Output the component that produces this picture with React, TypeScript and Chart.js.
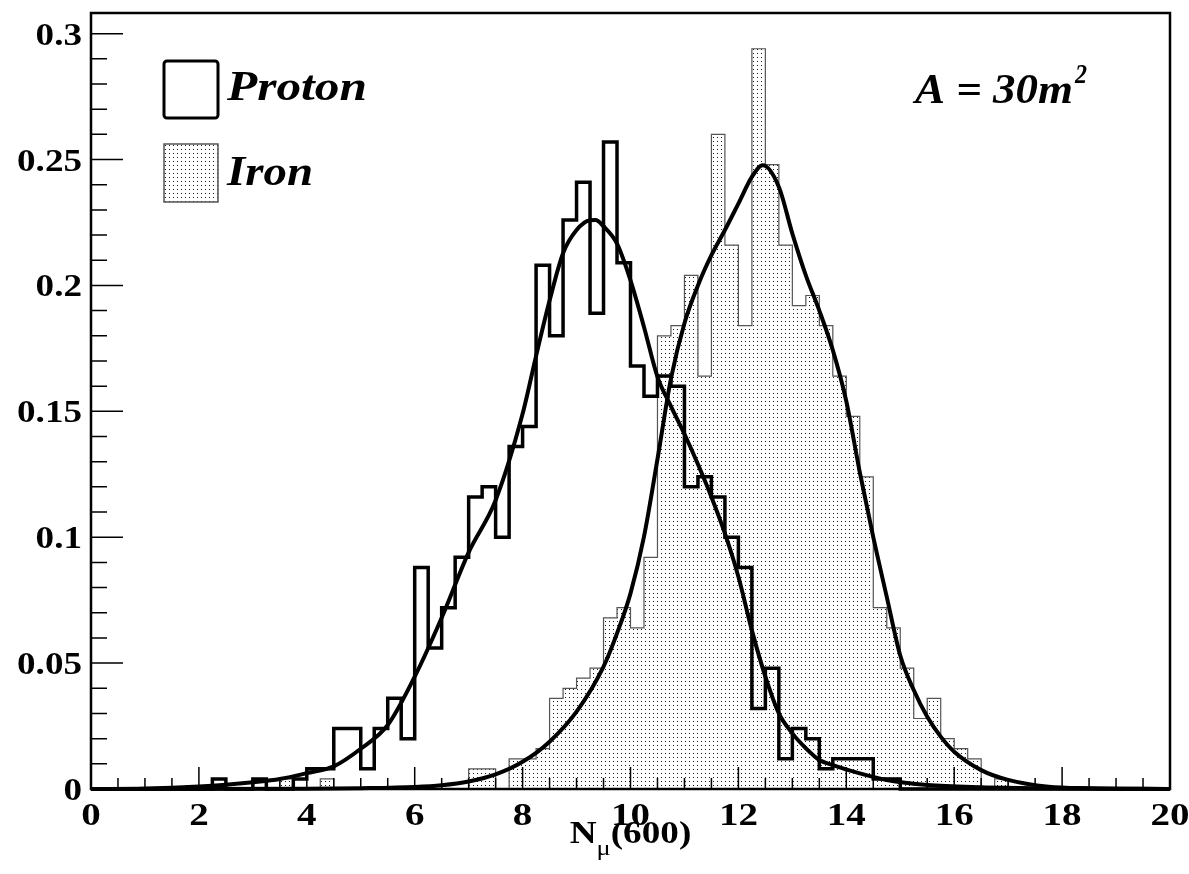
import React, { useEffect, useRef } from "react";
import { Chart, registerables } from "chart.js";

Chart.register(...registerables);

// ---------- data ----------
const BIN_WIDTH = 0.25;

const PROTON_START = 2.25;
const protonValues = [
  0.004, 0, 0, 0.004, 0, 0, 0.004, 0.008, 0.008, 0.024,
  0.024, 0.008, 0.024, 0.036, 0.020, 0.088, 0.056, 0.072, 0.092, 0.116,
  0.120, 0.100, 0.136, 0.144, 0.208, 0.180, 0.226, 0.241, 0.189, 0.257,
  0.209, 0.168, 0.156, 0.164, 0.160, 0.120, 0.124, 0.116, 0.100, 0.088,
  0.032, 0.048, 0.012, 0.024, 0.020, 0.008, 0.012, 0.012, 0.012, 0.004,
  0.004,
];

const IRON_START = 3.5;
const ironValues = [
  0.004, 0, 0, 0.004, 0, 0, 0, 0, 0, 0,
  0, 0, 0, 0, 0.008, 0.008, 0, 0.012, 0.012, 0.016,
  0.036, 0.040, 0.044, 0.048, 0.068, 0.072, 0.064, 0.092, 0.180, 0.184,
  0.204, 0.164, 0.260, 0.216, 0.184, 0.294, 0.248, 0.216, 0.192, 0.196,
  0.184, 0.164, 0.148, 0.124, 0.072, 0.064, 0.048, 0.028, 0.036, 0.020,
  0.016, 0.012, 0, 0.004,
];

const protonFitX = [0, 1, 2, 2.5, 3, 3.5, 4, 4.5, 5, 5.5, 6, 6.5, 7, 7.5, 8, 8.25, 8.5, 8.75, 9, 9.25, 9.35, 9.5, 9.75, 10, 10.25, 10.5, 10.75, 11, 11.25, 11.5, 11.75, 12, 12.25, 12.5, 12.75, 13, 13.25, 13.5, 13.75, 14.25, 14.75, 15.5, 16.5, 17.75, 20];
const protonFitY = [0, 0.0002, 0.001, 0.0017, 0.0027, 0.004, 0.0063, 0.009, 0.016, 0.0254, 0.0446, 0.068, 0.094, 0.1147, 0.149, 0.172, 0.194, 0.2128, 0.222, 0.2259, 0.226, 0.2235, 0.2166, 0.202, 0.1835, 0.1637, 0.152, 0.141, 0.129, 0.116, 0.1015, 0.0843, 0.063, 0.0446, 0.030, 0.0221, 0.0162, 0.0115, 0.0095, 0.0062, 0.0036, 0.0016, 0.0007, 0.0003, 0];

const ironFitX = [0, 4, 5, 6, 6.5, 7, 7.5, 8, 8.5, 9, 9.5, 9.75, 10, 10.25, 10.5, 10.75, 11, 11.25, 11.5, 11.75, 12, 12.25, 12.45, 12.75, 13, 13.25, 13.5, 13.75, 14, 14.25, 14.5, 14.75, 15, 15.25, 15.5, 15.75, 16, 16.5, 17, 17.75, 18.5, 20];
const ironFitY = [0, 0.0001, 0.0003, 0.0008, 0.0015, 0.003, 0.0058, 0.0108, 0.0188, 0.0307, 0.0486, 0.0618, 0.0777, 0.1002, 0.131, 0.163, 0.185, 0.2, 0.212, 0.222, 0.2325, 0.2431, 0.2477, 0.2391, 0.2206, 0.204, 0.19, 0.1743, 0.154, 0.1258, 0.1, 0.0763, 0.053, 0.0393, 0.0287, 0.0208, 0.0148, 0.0075, 0.0036, 0.0009, 0.0003, 0];

const X_MIN = 0;
const X_MAX = 20;
const Y_MIN = 0;
const Y_MAX = 0.3082;

const xTickValues = [0, 2, 4, 6, 8, 10, 12, 14, 16, 18, 20];
const xTickLabels = ["0", "2", "4", "6", "8", "10", "12", "14", "16", "18", "20"];
const yTickValues = [0, 0.05, 0.1, 0.15, 0.2, 0.25, 0.3];
const yTickLabels = ["0", "0.05", "0.1", "0.15", "0.2", "0.25", "0.3"];
const X_MINOR_STEP = 0.5;
const Y_MINOR_STEP = 0.01;

const LEGEND_PROTON = "Proton";
const LEGEND_IRON = "Iron";
const AREA_TEXT = "A = 30m";
const AREA_SUP = "2";
const X_TITLE_MAIN = "N";
const X_TITLE_SUB = "\u03bc";
const X_TITLE_REST = "(600)";

// ---------- helpers ----------
function histSteps(start: number, values: number[]) {
  const pts: { x: number; y: number }[] = [{ x: X_MIN, y: 0 }];
  values.forEach((v, i) => pts.push({ x: start + i * BIN_WIDTH, y: v }));
  pts.push({ x: start + values.length * BIN_WIDTH, y: 0 });
  pts.push({ x: X_MAX, y: 0 });
  return pts;
}

function zip(xs: number[], ys: number[]) {
  return xs.map((x, i) => ({ x, y: ys[i] }));
}

function makePattern(ctx: CanvasRenderingContext2D) {
  const pc = document.createElement("canvas");
  pc.width = 4;
  pc.height = 4;
  const p = pc.getContext("2d")!;
  p.fillStyle = "#ffffff";
  p.fillRect(0, 0, 4, 4);
  p.fillStyle = "#1a1a1a";
  p.fillRect(1, 1, 1, 1);
  return ctx.createPattern(pc, "repeat")!;
}

const SERIF = "'Liberation Serif', 'Times New Roman', serif";

function drawScaledText(
  ctx: CanvasRenderingContext2D,
  text: string,
  x: number,
  y: number,
  font: string,
  align: CanvasTextAlign,
  sx: number
) {
  ctx.save();
  ctx.font = font;
  ctx.textAlign = align;
  ctx.textBaseline = "alphabetic";
  ctx.fillStyle = "#000";
  ctx.translate(x, y);
  ctx.scale(sx, 1);
  ctx.fillText(text, 0, 0);
  ctx.restore();
}

function fitText(
  ctx: CanvasRenderingContext2D,
  text: string,
  x: number,
  y: number,
  font: string,
  width: number
) {
  ctx.save();
  ctx.font = font;
  const w = ctx.measureText(text).width;
  ctx.restore();
  drawScaledText(ctx, text, x, y, font, "left", width / w);
}

const decorPlugin = {
  id: "rootDecor",
  afterDraw(chart: any) {
    const ctx: CanvasRenderingContext2D = chart.ctx;
    const { left, right, top, bottom } = chart.chartArea;
    const xs = chart.scales.x;
    const ys = chart.scales.y;
    const pattern = chart.$ironPattern as CanvasPattern;

    ctx.save();
    // frame
    ctx.strokeStyle = "#000";
    ctx.lineWidth = 2.5;
    ctx.strokeRect(left, top, right - left, bottom - top);

    // ticks
    ctx.lineWidth = 1.5;
    ctx.beginPath();
    for (let v = Y_MIN; v <= Y_MAX + 1e-9; v += Y_MINOR_STEP) {
      const vv = Math.round(v * 1000) / 1000;
      const major = yTickValues.some((t) => Math.abs(t - vv) < 1e-6);
      const py = ys.getPixelForValue(vv);
      ctx.moveTo(left, py);
      ctx.lineTo(left + (major ? 32 : 16), py);
    }
    for (let v = X_MIN; v <= X_MAX + 1e-9; v += X_MINOR_STEP) {
      const major = xTickValues.some((t) => Math.abs(t - v) < 1e-6);
      const px = xs.getPixelForValue(v);
      ctx.moveTo(px, bottom);
      ctx.lineTo(px, bottom - (major ? 22 : 11));
    }
    ctx.stroke();
    ctx.restore();

    // tick labels
    const tickFont = `bold 32px ${SERIF}`;
    yTickValues.forEach((v, i) => {
      drawScaledText(ctx, yTickLabels[i], left - 9, ys.getPixelForValue(v) + 11, tickFont, "right", 1.16);
    });
    xTickValues.forEach((v, i) => {
      drawScaledText(ctx, xTickLabels[i], xs.getPixelForValue(v), bottom + 36, tickFont, "center", 1.22);
    });

    // axis title N_mu(600), centered on the axis
    const tFont = `bold 31px ${SERIF}`;
    const sFont = `22px ${SERIF}`;
    const sxT = 1.2;
    ctx.save();
    ctx.font = tFont;
    const wN = ctx.measureText(X_TITLE_MAIN).width * sxT;
    const wR = ctx.measureText(X_TITLE_REST).width * sxT;
    ctx.font = sFont;
    const wS = ctx.measureText(X_TITLE_SUB).width * sxT;
    ctx.restore();
    const total = wN + wS + wR;
    const cx = (left + right) / 2;
    let tx = cx - total / 2;
    const tBase = 843;
    drawScaledText(ctx, X_TITLE_MAIN, tx, tBase, tFont, "left", sxT);
    tx += wN;
    drawScaledText(ctx, X_TITLE_SUB, tx, tBase + 12, sFont, "left", sxT);
    tx += wS;
    drawScaledText(ctx, X_TITLE_REST, tx, tBase, tFont, "left", sxT);

    // legend
    ctx.save();
    ctx.strokeStyle = "#000";
    ctx.lineWidth = 3;
    ctx.beginPath();
    (ctx as any).roundRect(164, 61, 54, 57, 3);
    ctx.stroke();
    ctx.fillStyle = pattern;
    ctx.fillRect(164, 144, 54, 58);
    ctx.strokeStyle = "#555";
    ctx.lineWidth = 1.5;
    ctx.strokeRect(164, 144, 54, 58);
    ctx.restore();

    const legFont = `italic bold 42px ${SERIF}`;
    fitText(ctx, LEGEND_PROTON, 227, 100, legFont, 140);
    fitText(ctx, LEGEND_IRON, 227, 185, legFont, 86);

    // area annotation
    fitText(ctx, AREA_TEXT, 915, 103, legFont, 158);
    fitText(ctx, AREA_SUP, 1075, 83, `italic bold 28px ${SERIF}`, 12);
  },
};

export default function App() {
  const ref = useRef<HTMLCanvasElement | null>(null);

  useEffect(() => {
    const canvas = ref.current!;
    const ctx = canvas.getContext("2d")!;
    const pattern = makePattern(ctx);

    const chart: any = new Chart(ctx, {
      type: "line",
      data: {
        datasets: [
          {
            label: "Proton fit",
            data: zip(protonFitX, protonFitY),
            borderColor: "#000",
            borderWidth: 4,
            pointRadius: 0,
            cubicInterpolationMode: "monotone",
            fill: false,
            order: 0,
            clip: 6,
          },
          {
            label: "Iron fit",
            data: zip(ironFitX, ironFitY),
            borderColor: "#000",
            borderWidth: 4,
            pointRadius: 0,
            cubicInterpolationMode: "monotone",
            fill: false,
            order: 0,
            clip: 6,
          },
          {
            label: LEGEND_PROTON,
            data: histSteps(PROTON_START, protonValues),
            stepped: true,
            borderColor: "#000",
            borderWidth: 3.5,
            pointRadius: 0,
            fill: false,
            order: 1,
            clip: 6,
          },
          {
            label: LEGEND_IRON,
            data: histSteps(IRON_START, ironValues),
            stepped: true,
            borderColor: "#555",
            borderWidth: 1.2,
            pointRadius: 0,
            fill: "origin",
            backgroundColor: pattern,
            order: 2,
            clip: 6,
          },
        ],
      } as any,
      options: {
        responsive: false,
        animation: false,
        events: [],
        layout: { padding: { top: 13, right: 19, left: 0, bottom: 0 } },
        plugins: {
          legend: { display: false },
          tooltip: { enabled: false },
          title: { display: false },
        },
        scales: {
          x: {
            type: "linear",
            min: X_MIN,
            max: X_MAX,
            grid: { display: false },
            border: { display: false },
            ticks: { display: false },
            afterFit: (s: any) => {
              s.height = 85;
            },
          },
          y: {
            type: "linear",
            min: Y_MIN,
            max: Y_MAX,
            grid: { display: false },
            border: { display: false },
            ticks: { display: false },
            afterFit: (s: any) => {
              s.width = 91;
            },
          },
        },
      } as any,
      plugins: [decorPlugin],
    });
    chart.$ironPattern = pattern;
    chart.draw();

    return () => chart.destroy();
  }, []);

  return (
    <div style={{ position: "absolute", left: 0, top: 0, width: 1189, height: 874, background: "#fff" }}>
      <canvas ref={ref} width={1189} height={874} style={{ display: "block" }} />
    </div>
  );
}
